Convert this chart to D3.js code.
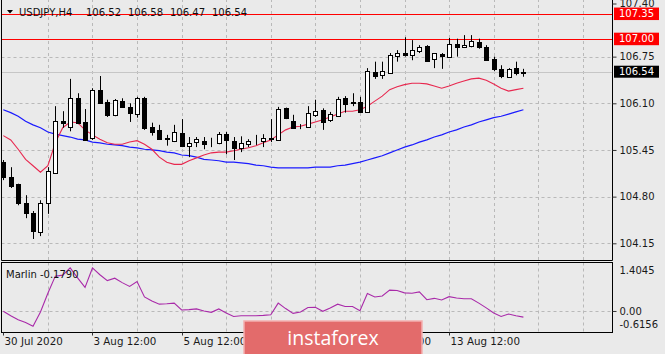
<!DOCTYPE html>
<html><head><meta charset="utf-8">
<script src="https://cdn.jsdelivr.net/npm/d3@7"></script>
<style>
html,body{margin:0;padding:0;background:#eaeaea;}
svg{display:block;}
text{font-family:"DejaVu Sans",Verdana,sans-serif;}
</style></head><body>
<svg id="c" width="665" height="354"></svg>
<script>
// ---------- data ----------
const open=[105.28,105.07,104.98,104.71,104.57,104.31,104.71,105.13,105.85,105.77,
106.17,105.84,105.62,106.29,106.12,105.94,106.13,106.05,105.95,106.17,
105.77,105.73,105.62,105.58,105.69,105.51,105.56,105.58,105.54,105.55,
105.67,105.58,105.48,105.53,105.58,105.57,105.60,105.59,106.03,105.85,
105.78,105.77,105.94,106.01,105.87,105.92,106.17,106.12,106.12,105.98,
106.54,106.49,106.52,106.76,106.80,106.77,106.83,106.90,106.72,106.79,
106.75,106.93,106.88,106.90,106.95,106.88,106.72,106.58,106.47,106.59,106.52];
const high=[105.31,105.21,104.98,104.82,104.60,104.75,105.21,106.06,105.99,106.44,
106.24,106.02,106.31,106.48,106.15,106.16,106.17,106.10,106.19,106.19,
105.83,105.80,105.66,105.80,105.88,105.63,105.63,105.63,105.62,105.70,
105.70,105.63,105.64,105.60,105.66,105.67,105.88,106.05,106.04,105.94,
105.81,106.06,106.15,106.03,105.98,106.19,106.20,106.24,106.19,106.59,
106.68,106.68,106.80,106.84,107.02,106.98,106.91,106.91,106.80,106.80,
107.01,107.00,107.05,107.05,107.00,106.91,106.75,106.63,106.59,106.68,106.58];
const low=[105.03,104.92,104.68,104.50,104.21,104.25,104.56,105.13,105.76,105.71,
105.81,105.59,105.59,106.10,105.91,105.92,106.05,105.84,105.90,105.73,
105.65,105.59,105.51,105.56,105.49,105.35,105.49,105.46,105.49,105.53,
105.39,105.31,105.42,105.49,105.52,105.49,105.56,105.58,105.88,105.76,
105.74,105.76,105.91,105.73,105.84,105.91,105.97,106.06,105.97,105.97,
106.44,106.44,106.51,106.68,106.75,106.70,106.80,106.68,106.59,106.58,
106.73,106.75,106.87,106.88,106.86,106.69,106.55,106.45,106.47,106.49,106.47];
const close=[105.07,104.95,104.71,104.57,104.32,104.71,105.16,105.85,105.83,106.17,
105.83,105.59,106.29,106.10,105.94,106.15,106.05,105.97,106.17,105.76,
105.70,105.60,105.60,105.70,105.51,105.55,105.60,105.53,105.54,105.67,
105.59,105.48,105.55,105.58,105.57,105.62,105.62,106.02,105.90,105.76,
105.78,105.97,105.99,105.84,105.95,106.16,106.09,106.11,105.98,106.55,
106.48,106.55,106.77,106.80,106.77,106.84,106.88,106.69,106.80,106.76,
106.93,106.88,106.91,106.97,106.88,106.70,106.58,106.48,106.58,106.52,106.54];
const maFast=[105.65,105.59,105.46,105.32,105.23,105.14,105.23,105.55,105.76,105.84,
105.83,105.73,105.66,105.60,105.55,105.53,105.53,105.56,105.58,105.53,
105.46,105.35,105.28,105.25,105.25,105.30,105.34,105.38,105.41,105.42,
105.42,105.44,105.46,105.48,105.51,105.55,105.59,105.66,105.73,105.77,
105.78,105.81,105.84,105.87,105.91,105.95,105.99,105.99,106.01,106.06,
106.13,106.20,106.29,106.33,106.36,106.38,106.38,106.37,106.34,106.31,
106.34,106.38,106.41,106.44,106.45,106.42,106.37,106.31,106.27,106.29,106.31];
const maSlow=[106.01,105.97,105.92,105.85,105.80,105.76,105.70,105.67,105.65,105.63,
105.60,105.59,105.56,105.55,105.53,105.52,105.51,105.49,105.48,105.46,
105.45,105.44,105.42,105.41,105.38,105.37,105.35,105.32,105.31,105.30,
105.28,105.28,105.27,105.26,105.24,105.23,105.21,105.20,105.20,105.20,
105.20,105.20,105.21,105.21,105.21,105.23,105.24,105.26,105.28,105.31,
105.34,105.37,105.41,105.45,105.49,105.52,105.56,105.59,105.63,105.66,
105.70,105.73,105.77,105.80,105.84,105.87,105.90,105.92,105.95,105.98,106.01];
const marlin=[-0.01,-0.14,-0.26,-0.34,-0.45,-0.03,0.52,1.02,1.05,1.26,
0.97,0.69,1.26,1.06,0.89,0.96,0.83,0.72,0.86,0.41,
0.29,0.20,0.21,0.23,0.03,0.04,0.06,0.00,-0.04,0.06,
-0.06,-0.16,-0.14,-0.14,-0.14,-0.13,-0.11,0.23,0.07,-0.07,
-0.03,0.10,0.11,-0.01,0.09,0.20,0.13,0.13,0.01,0.51,
0.41,0.44,0.61,0.60,0.53,0.52,0.56,0.33,0.37,0.32,
0.42,0.38,0.36,0.36,0.23,0.09,-0.06,-0.16,-0.09,-0.14,-0.179];
const priceTicks=[107.40,106.75,106.10,105.45,104.80,104.15];
const levels=[107.35,107.00];
const lastPrice=106.54;
const timeLabels=["30 Jul 2020","3 Aug 12:00","5 Aug 12:00","7 Aug 12:00","11 Aug 12:00","13 Aug 12:00"];
const timeLabelBars=[0,12,24,36,48,60];
const gridBars=[6,12,18,24,30,36,42,48,54,60,66,72,78];
const marlinTicks=[1.4045,0.00,-0.6156];
const titleParts=["USDJPY,H4","106.52","106.58","106.47","106.54"];
const marlinLabel="Marlin -0.1790";
const brand="instaforex";

// ---------- layout ----------
const svg=d3.select("#c");
const L=1.5,R=612.5,mTop=-1,mBot=260.5,iTop=262.5,iBot=332.5;
const x=d3.scaleLinear().domain([0,70]).range([3.3,523.4]);
const y=d3.scaleLinear().domain([104.15,106.10]).range([243.3,103.3]);
const yi=d3.scaleLinear().domain([-0.6156,1.4045]).range([332,263]);
const px=v=>Math.round(v)+0.5;

svg.append("rect").attr("width",665).attr("height",354).attr("fill","#eaeaea");

const grid=svg.append("g").attr("stroke","#b9b9b9").attr("stroke-dasharray","3,3").attr("stroke-width",1);
gridBars.forEach(b=>{
  grid.append("line").attr("x1",px(x(b))).attr("x2",px(x(b))).attr("y1",mTop).attr("y2",mBot);
  grid.append("line").attr("x1",px(x(b))).attr("x2",px(x(b))).attr("y1",iTop).attr("y2",iBot);
});
priceTicks.filter(t=>y(t)>12).forEach(t=>{
  grid.append("line").attr("x1",L).attr("x2",R).attr("y1",px(y(t))).attr("y2",px(y(t)));
});
grid.append("line").attr("x1",L).attr("x2",R).attr("y1",px(yi(0))).attr("y2",px(yi(0)));

// current price line
svg.append("line").attr("x1",L).attr("x2",R).attr("y1",px(y(lastPrice))).attr("y2",px(y(lastPrice)))
  .attr("stroke","#c6c6c6").attr("stroke-width",1);
// level lines
levels.forEach(l=>svg.append("line").attr("x1",L).attr("x2",R).attr("y1",px(y(l))).attr("y2",px(y(l)))
  .attr("stroke","#ff0000").attr("stroke-width",1));

// moving averages
const line=d3.line().x((d,i)=>x(i)).y(d=>y(d));
svg.append("path").attr("d",line(maSlow)).attr("fill","none").attr("stroke","#1a1aff").attr("stroke-width",1.2);
svg.append("path").attr("d",line(maFast)).attr("fill","none").attr("stroke","#e8284f").attr("stroke-width",1.1);

// candles
const cg=svg.append("g");
open.forEach((o,i)=>{
  const c=close[i],cx=px(x(i));
  cg.append("line").attr("x1",cx).attr("x2",cx).attr("y1",y(high[i])).attr("y2",y(low[i])).attr("stroke","#000");
  const top=Math.round(y(Math.max(o,c))),bot=Math.round(y(Math.min(o,c)));
  const bull=c>o;
  cg.append("rect").attr("x",cx-2).attr("width",4).attr("y",top+0.5).attr("height",Math.max(0,bot-top))
    .attr("fill",bull?"#fff":"#000").attr("stroke","#000").attr("stroke-width",1);
});

// marlin line
svg.append("path").attr("d",d3.line().x((d,i)=>x(i)).y(d=>yi(d))(marlin))
  .attr("fill","none").attr("stroke","#a92aa9").attr("stroke-width",1.1);

// frames
svg.append("line").attr("x1",L).attr("x2",L).attr("y1",mTop).attr("y2",mBot).attr("stroke","#000");
svg.append("line").attr("x1",R).attr("x2",R).attr("y1",mTop).attr("y2",mBot).attr("stroke","#000");
svg.append("line").attr("x1",L).attr("x2",R).attr("y1",mBot).attr("y2",mBot).attr("stroke","#000");
svg.append("rect").attr("x",L).attr("y",iTop).attr("width",R-L).attr("height",iBot-iTop).attr("fill","none").attr("stroke","#000");

// right price axis
const ay=svg.append("g").attr("transform",`translate(${R},0)`)
  .call(d3.axisRight(y).tickValues(priceTicks).tickFormat(d3.format(".2f")).tickSize(4).tickPadding(3));
ay.select(".domain").remove();
ay.selectAll("text").attr("font-size",10).attr("fill","#1a1a1a").style("font-family","DejaVu Sans");
ay.selectAll("line").attr("stroke","#333");
ay.selectAll(".tick").filter(d=>d===107.40).attr("transform","translate(0,4)");

// level / price labels
levels.forEach(l=>{
  const g=svg.append("g").attr("transform",`translate(614,${y(l)})`);
  g.append("rect").attr("x",0).attr("y",-6).attr("width",45).attr("height",12.5).attr("fill","#ff0000");
  g.append("text").attr("x",5).attr("y",0).attr("dy","0.35em").attr("font-size",10).attr("fill","#fff").text(d3.format(".2f")(l));
});
{
  const g=svg.append("g").attr("transform",`translate(614,${y(lastPrice)})`);
  g.append("rect").attr("x",0).attr("y",-6).attr("width",45).attr("height",12).attr("fill","#000");
  g.append("text").attr("x",5).attr("y",0).attr("dy","0.35em").attr("font-size",10).attr("fill","#fff").text(d3.format(".2f")(lastPrice));
}

// indicator axis
const ai=svg.append("g").attr("transform",`translate(${R},0)`)
  .call(d3.axisRight(yi).tickValues(marlinTicks).tickFormat(d=>d===0?"0.00":String(d)).tickSize(4).tickPadding(3));
ai.select(".domain").remove();
ai.selectAll("text").attr("font-size",10).attr("fill","#1a1a1a").style("font-family","DejaVu Sans");
ai.selectAll("line").attr("stroke","#333");
ai.selectAll(".tick").filter(d=>d===1.4045).attr("transform",`translate(0,${yi(1.4045)+8})`).select("line").remove();
ai.selectAll(".tick").filter(d=>d===-0.6156).attr("transform",`translate(0,${yi(-0.6156)-7})`).select("line").remove();

// time axis
const ax=svg.append("g").attr("transform",`translate(0,${iBot})`)
  .call(d3.axisBottom(x).tickValues(timeLabelBars).tickFormat((d,i)=>timeLabels[i]).tickSize(3).tickPadding(2));
ax.select(".domain").remove();
ax.selectAll(".tick").attr("transform",d=>`translate(${px(x(d))},0)`);
ax.selectAll("line").attr("stroke","#333");
ax.selectAll("text").attr("text-anchor","start").attr("x",1).attr("font-size",10.3).attr("fill","#1a1a1a").style("font-family","DejaVu Sans");

// title
svg.append("path").attr("d","M7,10 L13,10 L10,13.5 Z").attr("fill","#000");
const tx=[19,86,128,170,212];
titleParts.forEach((t,i)=>svg.append("text").attr("x",tx[i]).attr("y",12.5).attr("dy","0.35em")
  .attr("font-size",10).attr("fill","#111").text(t));
svg.append("text").attr("x",6).attr("y",274).attr("dy","0.35em").attr("font-size",10).attr("fill","#111").text(marlinLabel);

// watermark
const wm=svg.append("g");
wm.append("rect").attr("x",244).attr("y",321).attr("width",178).attr("height",36)
  .attr("fill","#e36b6b").attr("stroke","#f3b0b0").attr("stroke-width",1.5);
wm.append("text").attr("x",333).attr("y",345).attr("text-anchor","middle").attr("font-size",19.5)
  .style("font-family","'Open Sans',sans-serif").attr("fill","#fff").text(brand);
</script>
</body></html>
